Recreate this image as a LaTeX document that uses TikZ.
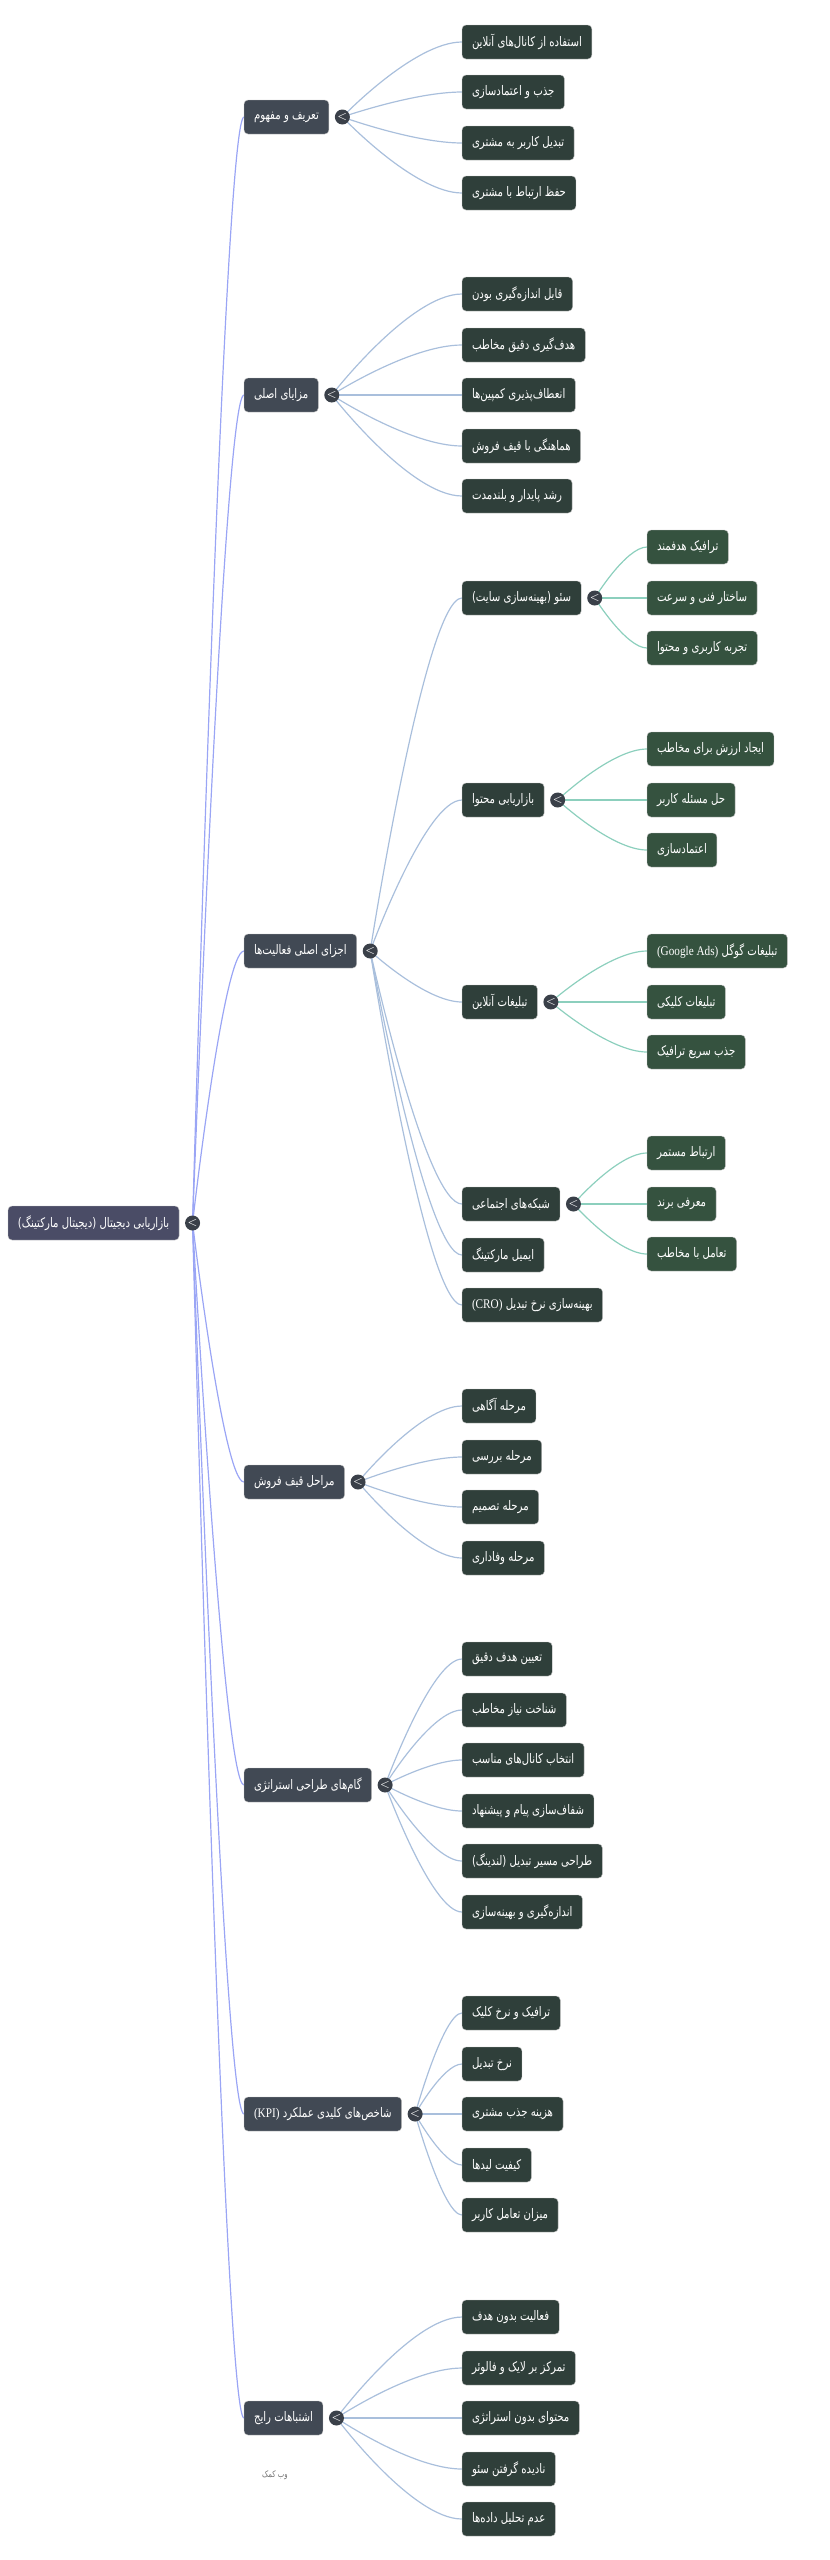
\documentclass[tikz,border=0pt]{standalone}
\usepackage{fontspec}
\usetikzlibrary{positioning,calc,backgrounds}
\TeXXeTstate=1
\newfontfamily\farsi[Script=Arabic,FakeStretch=0.77]{DejaVu Sans}
\newfontfamily\latinpart[FakeStretch=0.85]{Liberation Serif}
\newcommand\fatxt[1]{\beginR #1\endR}
\newcommand\lat[1]{\beginL{\latinpart #1}\endL}
\definecolor{rootc}{HTML}{4A4C66}
\definecolor{mainc}{HTML}{414954}
\definecolor{leafc}{HTML}{2F3F3A}
\definecolor{subc}{HTML}{35523F}
\definecolor{togc}{HTML}{3A4049}
\definecolor{rootln}{HTML}{9AA5F5}
\definecolor{mainln}{HTML}{A9BFDC}
\definecolor{subln}{HTML}{8CCFBD}

\begin{document}
\begin{tikzpicture}[x=0.5pt,y=-0.5pt,inner sep=0pt,outer sep=0pt,
box/.style={rectangle,rounded corners=2pt,anchor=west,text=white,inner xsep=5pt,minimum height=17pt,
  draw=white!75!black,line width=0.2pt,font=\farsi\fontsize{6.6}{8}\selectfont},
rootbox/.style={box,fill=rootc},
mainbox/.style={box,fill=mainc},
leafbox/.style={box,fill=leafc},
subbox/.style={box,fill=subc},
toggle/.style={circle,fill=togc,minimum size=7.5pt,text=white,font=\fontsize{5}{5}\selectfont},
branch/.style={line width=0.6pt,to path={.. controls (\tikztostart) and ($(\tikztotarget)!.4!(\tikztostart |- \tikztotarget)$) .. (\tikztotarget)}},
rootline/.style={branch,draw=rootln},
mainline/.style={branch,draw=mainln},
subline/.style={branch,draw=subln}]
\useasboundingbox (0,0) rectangle (830,2560);

% root
\draw (8,1223) node[rootbox] (root) {\fatxt{بازاریابی دیجیتال (دیجیتال مارکتینگ)}};
\node[toggle,right=3pt of root] (rootT) {<};

% first level
\draw (244,117) node[mainbox] (def) {\fatxt{تعریف و مفهوم}};
\draw (244,395) node[mainbox] (adv) {\fatxt{مزایای اصلی}};
\draw (244,951) node[mainbox] (part) {\fatxt{اجزای اصلی فعالیت‌ها}};
\draw (244,1482) node[mainbox] (fun) {\fatxt{مراحل قیف فروش}};
\draw (244,1785) node[mainbox] (step) {\fatxt{گام‌های طراحی استراتژی}};
\draw (244,2114) node[mainbox] (kpi) {\fatxt{شاخص‌های کلیدی عملکرد \lat{(KPI)}}};
\draw (244,2418) node[mainbox] (mis) {\fatxt{اشتباهات رایج}};
\foreach \n in {def,adv,part,fun,step,kpi,mis}
  \node[toggle,right=3pt of \n] (\n T) {<};

% definition
\draw (462,42) node[leafbox] (def1) {\fatxt{استفاده از کانال‌های آنلاین}};
\draw (462,92) node[leafbox] (def2) {\fatxt{جذب و اعتمادسازی}};
\draw (462,143) node[leafbox] (def3) {\fatxt{تبدیل کاربر به مشتری}};
\draw (462,193) node[leafbox] (def4) {\fatxt{حفظ ارتباط با مشتری}};

% advantages
\draw (462,294) node[leafbox] (adv1) {\fatxt{قابل اندازه‌گیری بودن}};
\draw (462,345) node[leafbox] (adv2) {\fatxt{هدف‌گیری دقیق مخاطب}};
\draw (462,395) node[leafbox] (adv3) {\fatxt{انعطاف‌پذیری کمپین‌ها}};
\draw (462,446) node[leafbox] (adv4) {\fatxt{هماهنگی با قیف فروش}};
\draw (462,496) node[leafbox] (adv5) {\fatxt{رشد پایدار و بلندمدت}};

% components
\draw (462,598) node[leafbox] (part1) {\fatxt{سئو (بهینه‌سازی سایت)}};
\draw (462,800) node[leafbox] (part2) {\fatxt{بازاریابی محتوا}};
\draw (462,1002) node[leafbox] (part3) {\fatxt{تبلیغات آنلاین}};
\draw (462,1204) node[leafbox] (part4) {\fatxt{شبکه‌های اجتماعی}};
\draw (462,1255) node[leafbox] (part5) {\fatxt{ایمیل مارکتینگ}};
\draw (462,1305) node[leafbox] (part6) {\fatxt{بهینه‌سازی نرخ تبدیل \lat{(CRO)}}};
\foreach \n in {part1,part2,part3,part4}
  \node[toggle,right=3pt of \n] (\n T) {<};

\draw (647,547) node[subbox] (seo1) {\fatxt{ترافیک هدفمند}};
\draw (647,598) node[subbox] (seo2) {\fatxt{ساختار فنی و سرعت}};
\draw (647,648) node[subbox] (seo3) {\fatxt{تجربه کاربری و محتوا}};
\draw (647,749) node[subbox] (cnt1) {\fatxt{ایجاد ارزش برای مخاطب}};
\draw (647,800) node[subbox] (cnt2) {\fatxt{حل مسئله کاربر}};
\draw (647,850) node[subbox] (cnt3) {\fatxt{اعتمادسازی}};
\draw (647,951) node[subbox] (ads1) {\fatxt{تبلیغات گوگل \lat{(Google Ads)}}};
\draw (647,1002) node[subbox] (ads2) {\fatxt{تبلیغات کلیکی}};
\draw (647,1052) node[subbox] (ads3) {\fatxt{جذب سریع ترافیک}};
\draw (647,1153) node[subbox] (soc1) {\fatxt{ارتباط مستمر}};
\draw (647,1204) node[subbox] (soc2) {\fatxt{معرفی برند}};
\draw (647,1254) node[subbox] (soc3) {\fatxt{تعامل با مخاطب}};

% funnel
\draw (462,1406) node[leafbox] (fun1) {\fatxt{مرحله آگاهی}};
\draw (462,1457) node[leafbox] (fun2) {\fatxt{مرحله بررسی}};
\draw (462,1507) node[leafbox] (fun3) {\fatxt{مرحله تصمیم}};
\draw (462,1558) node[leafbox] (fun4) {\fatxt{مرحله وفاداری}};

% strategy steps
\draw (462,1659) node[leafbox] (step1) {\fatxt{تعیین هدف دقیق}};
\draw (462,1710) node[leafbox] (step2) {\fatxt{شناخت نیاز مخاطب}};
\draw (462,1760) node[leafbox] (step3) {\fatxt{انتخاب کانال‌های مناسب}};
\draw (462,1811) node[leafbox] (step4) {\fatxt{شفاف‌سازی پیام و پیشنهاد}};
\draw (462,1861) node[leafbox] (step5) {\fatxt{طراحی مسیر تبدیل (لندینگ)}};
\draw (462,1912) node[leafbox] (step6) {\fatxt{اندازه‌گیری و بهینه‌سازی}};

% kpi
\draw (462,2013) node[leafbox] (kpi1) {\fatxt{ترافیک و نرخ کلیک}};
\draw (462,2064) node[leafbox] (kpi2) {\fatxt{نرخ تبدیل}};
\draw (462,2114) node[leafbox] (kpi3) {\fatxt{هزینه جذب مشتری}};
\draw (462,2165) node[leafbox] (kpi4) {\fatxt{کیفیت لیدها}};
\draw (462,2215) node[leafbox] (kpi5) {\fatxt{میزان تعامل کاربر}};

% mistakes
\draw (462,2317) node[leafbox] (mis1) {\fatxt{فعالیت بدون هدف}};
\draw (462,2368) node[leafbox] (mis2) {\fatxt{تمرکز بر لایک و فالوئر}};
\draw (462,2418) node[leafbox] (mis3) {\fatxt{محتوای بدون استراتژی}};
\draw (462,2469) node[leafbox] (mis4) {\fatxt{نادیده گرفتن سئو}};
\draw (462,2519) node[leafbox] (mis5) {\fatxt{عدم تحلیل داده‌ها}};

\node[text=black!55,font=\farsi\fontsize{4.5}{5}\selectfont] (mark) at (275,2475) {\fatxt{وب کمک}};

% connectors
\begin{scope}[on background layer]
\foreach \n in {def,adv,part,fun,step,kpi,mis}
  \draw[rootline] (rootT.center) to (\n.west);
\foreach \i in {1,...,4} \draw[mainline] (defT.center) to (def\i.west);
\foreach \i in {1,...,5} \draw[mainline] (advT.center) to (adv\i.west);
\foreach \i in {1,...,6} \draw[mainline] (partT.center) to (part\i.west);
\foreach \i in {1,...,4} \draw[mainline] (funT.center) to (fun\i.west);
\foreach \i in {1,...,6} \draw[mainline] (stepT.center) to (step\i.west);
\foreach \i in {1,...,5} \draw[mainline] (kpiT.center) to (kpi\i.west);
\foreach \i in {1,...,5} \draw[mainline] (misT.center) to (mis\i.west);
\foreach \i in {1,2,3} {
  \draw[subline] (part1T.center) to (seo\i.west);
  \draw[subline] (part2T.center) to (cnt\i.west);
  \draw[subline] (part3T.center) to (ads\i.west);
  \draw[subline] (part4T.center) to (soc\i.west);
}
\end{scope}
\end{tikzpicture}
\end{document}
